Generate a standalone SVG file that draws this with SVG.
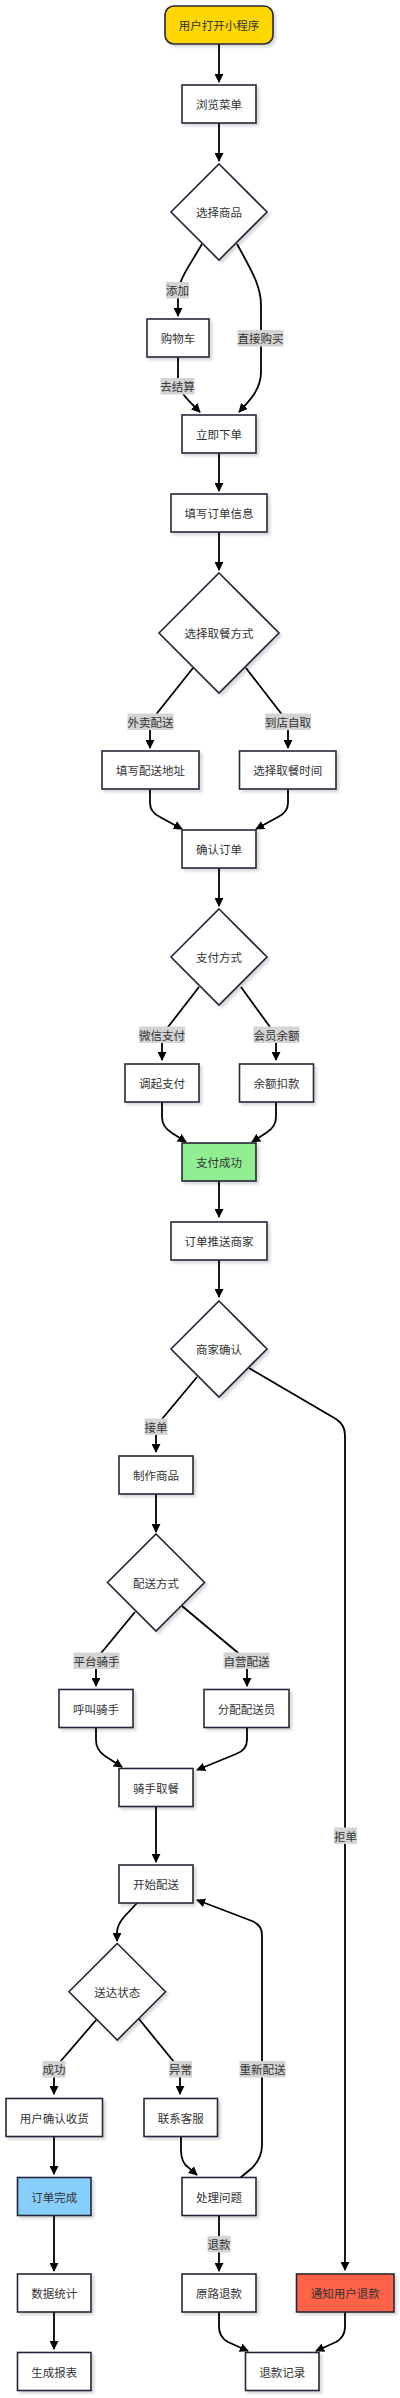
<svg xmlns="http://www.w3.org/2000/svg" width="400" height="2398" viewBox="0 0 400 2398">
<defs>
<style>
.n rect, .n polygon { fill: #ffffff; stroke: #26263a; stroke-width: 1.6; filter: url(#sh); }
.n text { font-family: "Noto Sans CJK SC", "Liberation Sans", sans-serif; font-size: 11.5px; fill: #333333; text-anchor: middle; dominant-baseline: central; }
.e path { fill: none; stroke: #000000; stroke-width: 1.8; marker-end: url(#ah); }
.lb rect { fill: #d4d4d4; }
.lb text { font-family: "Noto Sans CJK SC", "Liberation Sans", sans-serif; font-size: 11.5px; fill: #333333; text-anchor: middle; dominant-baseline: central; }
</style>
<marker id="ah" viewBox="0 0 10 10" refX="9" refY="5" markerUnits="userSpaceOnUse" markerWidth="9" markerHeight="9" orient="auto">
<path d="M0,0 L10,5 L0,10 z" fill="#000000"/>
</marker>
<filter id="sh" x="-10%" y="-10%" width="130%" height="140%">
<feDropShadow dx="2.5" dy="2.5" stdDeviation="1.2" flood-color="#000000" flood-opacity="0.15"/>
</filter>
</defs>

<g id="edges" class="e">
<path d="M219,44 L219,82"/>
<path d="M219,123 L219,161"/>
<path d="M202,244 C190,265 178,280 178,295 L178,316"/>
<path d="M237,244 C250,268 261,285 261,305 L261,372 C261,390 249,401 239,412"/>
<path d="M178,357 L178,380 C178,392 190,402 200,412"/>
<path d="M219,453 L219,491"/>
<path d="M219,532 L219,570"/>
<path d="M193,668 L158,712 Q150,722 150,730 L150,748"/>
<path d="M246,668 L280,712 Q288,722 288,730 L288,748"/>
<path d="M150,789 L150,803 Q150,812 160,817 L182,829"/>
<path d="M288,789 L288,803 Q288,812 278,817 L256,829"/>
<path d="M219,868 L219,906"/>
<path d="M199,987 L168,1027 Q162,1035 162,1042 L162,1060"/>
<path d="M241,987 L270,1027 Q276,1035 276,1042 L276,1060"/>
<path d="M162,1102 L162,1117 Q162,1127 172,1133 L186,1142"/>
<path d="M276,1102 L276,1117 Q276,1127 266,1133 L252,1142"/>
<path d="M219,1181 L219,1217"/>
<path d="M219,1260 L219,1297"/>
<path d="M197,1377 L162,1419 Q156,1426 156,1433 L156,1452"/>
<path d="M249,1368 L336,1419 Q345,1425 345,1435 L345,2270"/>
<path d="M156,1494 L156,1532"/>
<path d="M135,1612 L102,1652 Q96,1660 96,1668 L96,1686"/>
<path d="M182,1606 L237,1652 Q247,1660 247,1668 L247,1686"/>
<path d="M96,1728 L96,1740 Q96,1750 105,1756 L122,1767"/>
<path d="M247,1728 L247,1740 Q247,1750 236,1754 L197,1770"/>
<path d="M156,1807 L156,1862"/>
<path d="M137,1903 L124,1917 Q117,1925 117,1933 L117,1941"/>
<path d="M97,2019 L60,2062 Q54,2069 54,2077 L54,2094"/>
<path d="M139,2019 L174,2062 Q180,2069 180,2077 L180,2094"/>
<path d="M54,2137 L54,2174"/>
<path d="M181,2137 L181,2150 Q181,2163 189,2168 L197,2175"/>
<path d="M240,2178 L252,2168 Q262,2158 262,2145 L262,1935 Q262,1925 252,1921 L197,1900"/>
<path d="M219,2215 L219,2271"/>
<path d="M54,2215 L54,2271"/>
<path d="M54,2312 L54,2349"/>
<path d="M219,2312 L219,2327 Q219,2337 228,2342 L248,2351"/>
<path d="M345,2312 L345,2327 Q345,2337 336,2342 L316,2351"/>
</g>

<g id="edge-labels" class="lb">
<g><rect x="166" y="282" width="23" height="16.5"/><text x="177.5" y="290.3">添加</text></g>
<g><rect x="237.5" y="330" width="46" height="16.5"/><text x="260.5" y="338.3">直接购买</text></g>
<g><rect x="160.5" y="378" width="34" height="16.5"/><text x="177.5" y="386.3">去结算</text></g>
<g><rect x="127.5" y="713.5" width="46" height="16.5"/><text x="150.5" y="721.8">外卖配送</text></g>
<g><rect x="265" y="713.5" width="46" height="16.5"/><text x="288" y="721.8">到店自取</text></g>
<g><rect x="139" y="1026.5" width="46" height="16.5"/><text x="162" y="1034.8">微信支付</text></g>
<g><rect x="253.5" y="1026.5" width="46" height="16.5"/><text x="276.5" y="1034.8">会员余额</text></g>
<g><rect x="144.5" y="1418.5" width="23" height="16.5"/><text x="156" y="1426.8">接单</text></g>
<g><rect x="334" y="1827.5" width="23" height="16.5"/><text x="345.5" y="1835.8">拒单</text></g>
<g><rect x="73.5" y="1652.5" width="46" height="16.5"/><text x="96.5" y="1660.8">平台骑手</text></g>
<g><rect x="223.5" y="1652.5" width="46" height="16.5"/><text x="246.5" y="1660.8">自营配送</text></g>
<g><rect x="42.5" y="2061" width="23" height="16.5"/><text x="54" y="2069.3">成功</text></g>
<g><rect x="169" y="2061" width="23" height="16.5"/><text x="180.5" y="2069.3">异常</text></g>
<g><rect x="239.5" y="2061" width="46" height="16.5"/><text x="262.5" y="2069.3">重新配送</text></g>
<g><rect x="207.5" y="2236" width="23" height="16.5"/><text x="219" y="2244.3">退款</text></g>
</g>

<g id="n-start" class="n"><rect x="165" y="6" width="108" height="38" rx="9" style="fill:#FFD700"/><text x="219" y="25">用户打开小程序</text></g>
<g id="n-browse" class="n"><rect x="182" y="85" width="74" height="38"/><text x="219" y="104">浏览菜单</text></g>
<g id="n-select" class="n"><polygon points="219,164 267,212 219,260 171,212"/><text x="219" y="212">选择商品</text></g>
<g id="n-cart" class="n"><rect x="147" y="319" width="62" height="38"/><text x="178" y="338">购物车</text></g>
<g id="n-order" class="n"><rect x="182" y="415" width="74" height="38"/><text x="219" y="434">立即下单</text></g>
<g id="n-fill" class="n"><rect x="171" y="494" width="96" height="38"/><text x="219" y="513">填写订单信息</text></g>
<g id="n-pickup" class="n"><polygon points="219,573 279,633 219,693 159,633"/><text x="219" y="633">选择取餐方式</text></g>
<g id="n-addr" class="n"><rect x="102" y="751" width="97" height="38"/><text x="150.5" y="770">填写配送地址</text></g>
<g id="n-time" class="n"><rect x="239.5" y="751" width="96.5" height="38"/><text x="287.7" y="770">选择取餐时间</text></g>
<g id="n-confirm" class="n"><rect x="182" y="830" width="74" height="38"/><text x="219" y="849">确认订单</text></g>
<g id="n-paymethod" class="n"><polygon points="219,909 267,957 219,1005 171,957"/><text x="219" y="957">支付方式</text></g>
<g id="n-wxpay" class="n"><rect x="125" y="1064" width="74" height="38"/><text x="162" y="1083">调起支付</text></g>
<g id="n-balance" class="n"><rect x="239.5" y="1064" width="74" height="38"/><text x="276.5" y="1083">余额扣款</text></g>
<g id="n-paid" class="n"><rect x="182" y="1143" width="74" height="38" style="fill:#90EE90"/><text x="219" y="1162">支付成功</text></g>
<g id="n-push" class="n"><rect x="171" y="1222" width="96" height="38"/><text x="219" y="1241">订单推送商家</text></g>
<g id="n-merchant" class="n"><polygon points="219,1301 267,1349 219,1397 171,1349"/><text x="219" y="1349">商家确认</text></g>
<g id="n-make" class="n"><rect x="119" y="1456" width="74" height="38"/><text x="156" y="1475">制作商品</text></g>
<g id="n-deliverymode" class="n"><polygon points="156,1534 204.5,1582.5 156,1631 107.5,1582.5"/><text x="156" y="1582.5">配送方式</text></g>
<g id="n-callrider" class="n"><rect x="59" y="1689.5" width="74" height="38"/><text x="96" y="1708.5">呼叫骑手</text></g>
<g id="n-assign" class="n"><rect x="204" y="1689.5" width="85" height="38"/><text x="246.5" y="1708.5">分配配送员</text></g>
<g id="n-pick" class="n"><rect x="119" y="1768.5" width="74" height="38"/><text x="156" y="1787.5">骑手取餐</text></g>
<g id="n-start-deliver" class="n"><rect x="119" y="1865" width="74" height="38"/><text x="156" y="1884">开始配送</text></g>
<g id="n-status" class="n"><polygon points="117.3,1943.5 165.5,1991.7 117.3,2040 69,1991.7"/><text x="117.3" y="1991.7">送达状态</text></g>
<g id="n-receive" class="n"><rect x="6" y="2098.5" width="96.5" height="38"/><text x="54.3" y="2117.5">用户确认收货</text></g>
<g id="n-service" class="n"><rect x="144" y="2098.5" width="73.5" height="38"/><text x="180.7" y="2117.5">联系客服</text></g>
<g id="n-done" class="n"><rect x="17.5" y="2177.5" width="73.5" height="38" style="fill:#87CEFA"/><text x="54.3" y="2196.5">订单完成</text></g>
<g id="n-handle" class="n"><rect x="182" y="2177.5" width="74" height="38"/><text x="219" y="2196.5">处理问题</text></g>
<g id="n-stats" class="n"><rect x="17.5" y="2274" width="73.5" height="38"/><text x="54.3" y="2293">数据统计</text></g>
<g id="n-refund-orig" class="n"><rect x="182" y="2274" width="74" height="38"/><text x="219" y="2293">原路退款</text></g>
<g id="n-notify" class="n"><rect x="296.5" y="2274" width="97.5" height="38" style="fill:#FF6347"/><text x="345.2" y="2293">通知用户退款</text></g>
<g id="n-report" class="n"><rect x="17.5" y="2352.5" width="73.5" height="38"/><text x="54.3" y="2371.5">生成报表</text></g>
<g id="n-refund-log" class="n"><rect x="245.5" y="2352.5" width="73.5" height="38"/><text x="282.3" y="2371.5">退款记录</text></g>
</svg>
